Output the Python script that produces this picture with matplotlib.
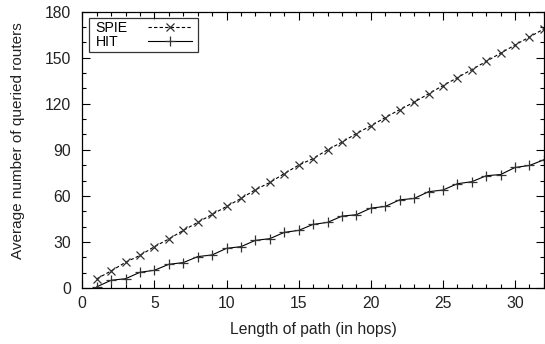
import matplotlib
matplotlib.use("Agg")
import matplotlib.pyplot as plt
from matplotlib.ticker import MultipleLocator
from matplotlib.offsetbox import DrawingArea

plt.rcParams['font.family'] = ['Liberation Sans', 'DejaVu Sans']

hops = list(range(1, 33))
spie = [5.9, 11.1, 16.7, 21.2, 26.9, 31.9, 37.5, 42.7, 47.9, 53.1, 58.3, 64.0,
        68.7, 74.5, 80.0, 84.3, 90.0, 95.0, 100.6, 105.6, 111.0, 116.2, 121.0,
        126.5, 131.8, 137.0, 142.3, 147.6, 153.0, 158.3, 163.5, 168.8]
hit = [0.7, 5.0, 6.0, 10.2, 11.5, 15.4, 16.5, 20.4, 21.5, 25.8, 26.9, 31.0,
       32.1, 36.2, 37.5, 41.4, 42.7, 46.8, 47.7, 52.0, 53.1, 57.4, 58.3, 62.7,
       63.8, 67.9, 69.2, 73.1, 73.9, 78.5, 79.8, 83.5]

fig = plt.figure(figsize=(5.45, 3.44), dpi=100)
ax = fig.add_axes([0.151, 0.163, 0.847, 0.803])

ax.plot(hops, spie, color='black', linestyle=(0, (3, 2)), linewidth=0.8,
        marker='x', markersize=6, markeredgecolor='#333333', markeredgewidth=0.9,
        label='SPIE')
ax.plot(hops, hit, color='black', linestyle='-', linewidth=0.8,
        marker='+', markersize=7, markeredgecolor='#333333', markeredgewidth=0.9,
        label='HIT')

ax.set_xlim(0, 32)
ax.set_ylim(0, 180)
ax.xaxis.set_major_locator(MultipleLocator(5))
ax.xaxis.set_minor_locator(MultipleLocator(1))
ax.yaxis.set_major_locator(MultipleLocator(30))
ax.yaxis.set_minor_locator(MultipleLocator(10))
ax.tick_params(which='both', direction='in', top=True, right=True, labelsize=11.3,
               labelcolor='#222222')
ax.tick_params(axis='y', which='major', pad=8)
ax.tick_params(axis='x', which='major', pad=6)
ax.tick_params(which='major', length=6, width=0.8)
ax.tick_params(which='minor', length=3, width=0.8)
for s in ax.spines.values():
    s.set_linewidth(0.9)

ax.set_xlabel('Length of path (in hops)', fontsize=11.3, labelpad=8, color='#222222')
ax.set_ylabel('Average number of queried routers', fontsize=11, color='#222222')
ax.yaxis.set_label_coords(-0.124, 0.532)

leg = ax.legend(loc='upper left', markerfirst=False, numpoints=1,
                handlelength=3.1, fontsize=10.2, frameon=True, fancybox=False,
                borderpad=0.2, labelspacing=0.02, handletextpad=1.48,
                borderaxespad=0.45)
leg.get_frame().set_edgecolor('black')
leg.get_frame().set_linewidth(0.9)

# left-align legend labels while keeping the sample lines aligned (gnuplot style)
fig.canvas.draw()
renderer = fig.canvas.get_renderer()
widths = [t.get_window_extent(renderer).width for t in leg.get_texts()]
wmax = max(widths)
pt_per_px = 72.0 / fig.dpi
hb = leg._legend_handle_box
for col in hb.get_children():
    col.align = 'left'
    for item, w in zip(col.get_children(), widths):
        item.sep = item.sep + (wmax - w) * pt_per_px
# extra horizontal padding inside the key box
hb.sep = 0
hb._children = [DrawingArea(2.8, 1)] + list(hb._children) + [DrawingArea(2.0, 1)]

fig.savefig('out.png', dpi=100)
